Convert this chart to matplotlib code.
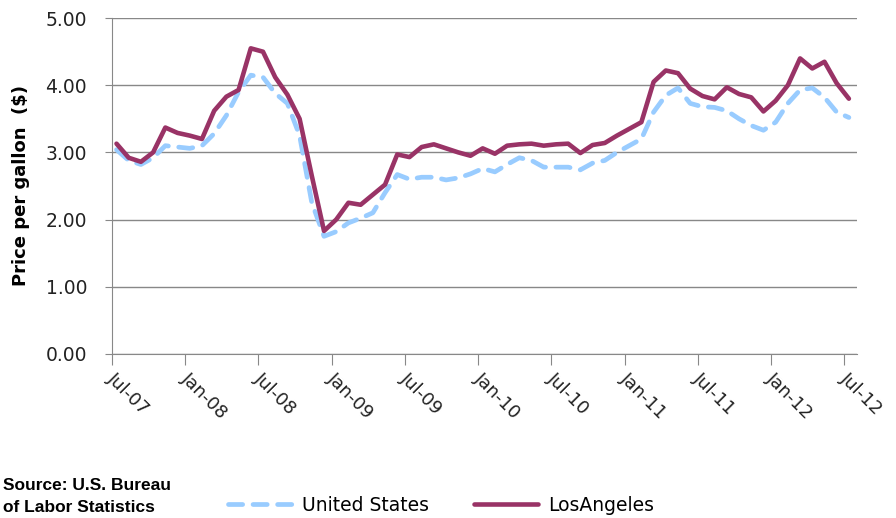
import matplotlib
matplotlib.use("Agg")
import matplotlib.pyplot as plt
import matplotlib.transforms as mtransforms
import numpy as np

tick_labels = ["Jul-07", "Jan-08", "Jul-08", "Jan-09", "Jul-09", "Jan-10",
               "Jul-10", "Jan-11", "Jul-11", "Jan-12", "Jul-12"]

# monthly average price, Jul-2007 .. Jul-2012
us_values = [3.04, 2.88, 2.82, 2.92, 3.10, 3.08, 3.06, 3.10, 3.28, 3.55,
             3.90, 4.15, 4.12, 3.88, 3.73, 3.25, 2.25, 1.75, 1.82, 1.95,
             2.02, 2.10, 2.40, 2.67, 2.60, 2.63, 2.63, 2.59, 2.62, 2.68,
             2.76, 2.71, 2.82, 2.92, 2.88, 2.78, 2.78, 2.78, 2.74, 2.84,
             2.88, 3.00, 3.10, 3.20, 3.60, 3.85, 3.96, 3.73, 3.68, 3.67,
             3.62, 3.50, 3.40, 3.33, 3.45, 3.73, 3.93, 3.96, 3.82, 3.60,
             3.52]
la_values = [3.13, 2.92, 2.86, 3.00, 3.37, 3.29, 3.25, 3.20, 3.62, 3.83,
             3.93, 4.55, 4.50, 4.12, 3.86, 3.50, 2.65, 1.83, 2.00, 2.25,
             2.22, 2.37, 2.52, 2.97, 2.93, 3.08, 3.12, 3.06, 3.00, 2.95,
             3.06, 2.98, 3.10, 3.12, 3.13, 3.10, 3.12, 3.13, 2.99, 3.11,
             3.14, 3.25, 3.35, 3.45, 4.05, 4.22, 4.18, 3.95, 3.84, 3.79,
             3.97, 3.87, 3.82, 3.61, 3.77, 4.00, 4.40, 4.25, 4.35, 4.03,
             3.80]

months = np.arange(len(la_values)) + 0.37
tick_pos = np.arange(len(tick_labels)) * 6

fig = plt.figure(figsize=(8.96, 5.18), dpi=100)
ax = fig.add_axes([0.125, 0.317, 0.831, 0.648])

ax.plot(months, us_values, color="#99CCFF", lw=3.4, ls=(0, (3.0, 2.2)),
        label="United States", dash_capstyle="round",
        dash_joinstyle="round")
ax.plot(months, la_values, color="#993366", lw=3.3, label="LosAngeles",
        solid_joinstyle="round", solid_capstyle="round")

ax.set_xlim(0, 61)
ax.set_ylim(0, 5)
yt = np.arange(0, 5.01, 1.0)
ax.set_yticks(yt)
ax.set_yticklabels([f"{v:.2f}" for v in yt], fontsize=13.5, color="#222222")
ax.yaxis.grid(True, color="#888888", lw=1.0)
ax.set_axisbelow(True)

# x tick marks with labels placed as rotated texts just right of each tick
ax.set_xticks(tick_pos)
ax.set_xticklabels([])
off = mtransforms.ScaledTranslation(5 / 100, -15 / 100, fig.dpi_scale_trans)
for pos, lab in zip(tick_pos, tick_labels):
    ax.text(pos, 0, lab, transform=ax.get_xaxis_transform() + off,
            rotation=-45, ha="left", va="top", rotation_mode="anchor",
            fontsize=13, color="#222222", clip_on=False)

for s in ["top", "right"]:
    ax.spines[s].set_visible(False)
ax.spines["left"].set_color("#888888")
ax.spines["bottom"].set_color("#888888")
ax.tick_params(axis="x", length=8, color="#888888")
ax.tick_params(axis="y", length=5, color="#888888", pad=13)

ax.set_ylabel("Price per gallon  ($)", fontsize=13, fontweight="bold")
ax.yaxis.set_label_coords(-0.11, 0.5)

leg = fig.legend(loc="center left", bbox_to_anchor=(228 / 896, 0.025),
                 ncol=2, frameon=False, fontsize=13.5, handlelength=3.4,
                 columnspacing=2.4, handletextpad=0.55, borderpad=0,
                 borderaxespad=0)

fs = 12.5
x0 = 3 / 896
fig.text(x0, 1 - 485 / 518, "Source: U.S. Bureau", ha="left",
         va="center", fontsize=fs, fontweight="bold",
         family="Liberation Sans")
fig.text(x0, 1 - 508 / 518, "of Labor Statistics", ha="left",
         va="center", fontsize=fs, fontweight="bold",
         family="Liberation Sans")

fig.savefig("out.png", dpi=100)
